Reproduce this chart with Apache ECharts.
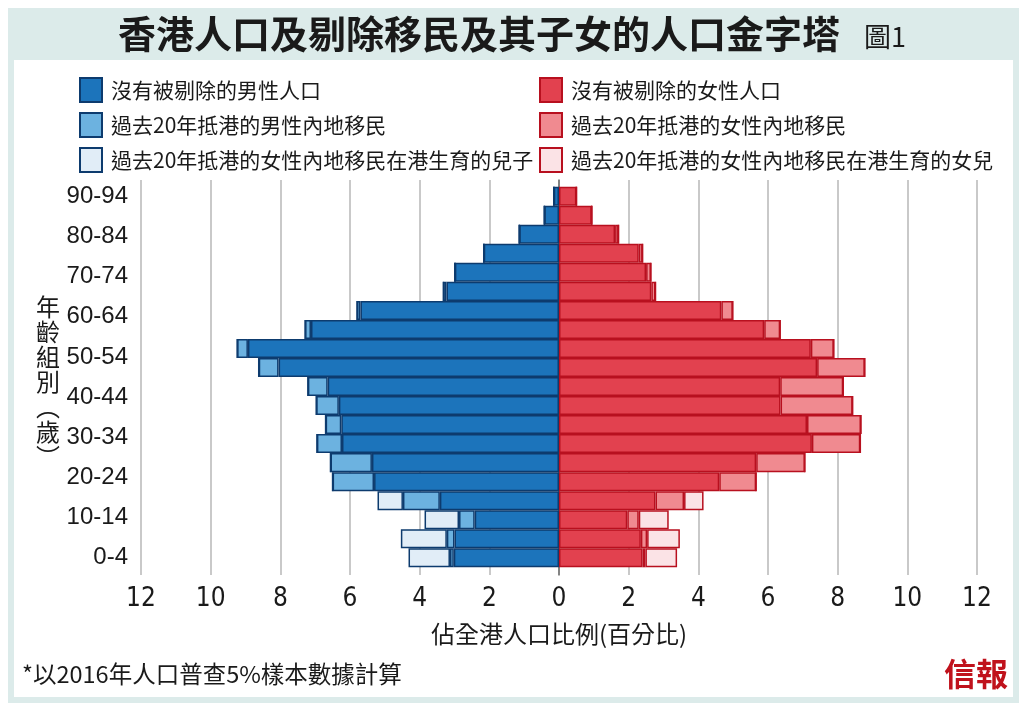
<!DOCTYPE html>
<html>
<head>
<meta charset="utf-8">
<script src="https://cdn.jsdelivr.net/npm/echarts@6/dist/echarts.min.js"></script>
<style>
html,body{margin:0;padding:0;background:#fff;}
#chart{width:1024px;height:713px;}
</style>
</head>
<body>
<div id="chart"></div>
<script>
// Age groups (bottom to top) - 20 bars in the picture
const ageGroups = ["0-4","5-9","10-14","15-19","20-24","25-29","30-34","35-39","40-44","45-49",
  "50-54","55-59","60-64","65-69","70-74","75-79","80-84","85-89","90-94","95+"];
// Axis tick labels shown on the left (bottom to top)
const ageTickLabels = ["0-4","10-14","20-24","30-34","40-44","50-54","60-64","70-74","80-84","90-94"];

// Male, % of HK population (bottom to top)
const maleLocal = [3.02,3.00,2.42,3.42,5.31,5.37,6.23,6.25,6.32,6.64,8.05,8.93,7.12,5.70,3.23,2.99,2.16,1.14,0.42,0.15];
const maleMigrant = [0.11,0.22,0.45,1.06,1.19,1.19,0.72,0.45,0.65,0.57,0.57,0.31,0.17,0.10,0.09,0,0,0,0,0];
const sonsOfMigrants = [1.19,1.32,0.99,0.73,0,0,0,0,0,0,0,0,0,0,0,0,0,0,0,0];

// Female, % of HK population (bottom to top)
const femaleLocal = [2.40,2.35,1.96,2.77,4.60,5.66,7.26,7.12,6.36,6.35,7.41,7.23,5.89,4.66,2.65,2.50,2.29,1.61,0.94,0.50];
const femaleMigrant = [0.08,0.18,0.33,0.82,1.06,1.40,1.39,1.55,2.07,1.81,1.37,0.66,0.46,0.33,0.12,0.14,0.11,0.10,0,0];
const daughtersOfMigrants = [0.91,0.94,0.86,0.56,0,0,0,0,0,0,0,0,0,0,0,0,0,0,0,0];

const names = {
  mLocal: "沒有被剔除的男性人口",
  mMig: "過去20年抵港的男性內地移民",
  sons: "過去20年抵港的女性內地移民在港生育的兒子",
  fLocal: "沒有被剔除的女性人口",
  fMig: "過去20年抵港的女性內地移民",
  daughters: "過去20年抵港的女性內地移民在港生育的女兒"
};

const CJK = '"Noto Sans CJK TC","Noto Sans CJK SC",sans-serif';
const maleBorder = "#0d3b6e";
const femaleBorder = "#b8101f";

function barSeries(name, data, negate, color, border) {
  return {
    name: name,
    type: "bar",
    stack: "pyramid",
    xAxisIndex: 0,
    yAxisIndex: 0,
    barCategoryGap: "0%",
    data: data.map(v => negate ? -v : v),
    itemStyle: { color: color, borderColor: border, borderWidth: 1.5 },
    emphasis: { disabled: true }
  };
}

const chart = echarts.init(document.getElementById("chart"), null, { renderer: "canvas" });

const option = {
  animation: false,
  backgroundColor: "#ffffff",
  graphic: [
    { type: "rect", z: -10, shape: { x: 8, y: 8, width: 1011, height: 695 }, style: { fill: "#dcebea" } },
    { type: "rect", z: -9, shape: { x: 14, y: 60, width: 999, height: 637 }, style: { fill: "#ffffff" } },
    { type: "text", z: 10, left: 118, top: 15,
      style: { text: "香港人口及剔除移民及其子女的人口金字塔", font: "bold 38px " + CJK, fill: "#1a1a1a" } },
    { type: "text", z: 10, left: 864, top: 23,
      style: { text: "圖1", font: "27px " + CJK, fill: "#1a1a1a" } },
    { type: "text", z: 10, left: 36, top: 294,
      style: { text: "年\n齡\n組\n別\n︵\n歲\n︶", font: "24px " + CJK, lineHeight: 25, fill: "#1a1a1a", align: "left" } },
    { type: "text", z: 10, left: 22, top: 662,
      style: { text: "*以2016年人口普查5%樣本數據計算", font: "23.5px " + CJK, fill: "#1a1a1a" } },
    { type: "text", z: 10, left: 944, top: 658,
      style: { text: "信報", font: "bold 32px " + CJK, fill: "#c0121c" } }
  ],
  legend: [
    {
      orient: "vertical", left: 74, top: 72, itemWidth: 22, itemHeight: 24, itemGap: 9,
      icon: "rect", selectedMode: false,
      data: [names.mLocal, names.mMig, names.sons],
      textStyle: { fontFamily: CJK, fontSize: 21, color: "#1a1a1a", padding: [0, 0, 0, 4] }
    },
    {
      orient: "vertical", left: 534, top: 72, itemWidth: 22, itemHeight: 24, itemGap: 9,
      icon: "rect", selectedMode: false,
      data: [names.fLocal, names.fMig, names.daughters],
      textStyle: { fontFamily: CJK, fontSize: 21, color: "#1a1a1a", padding: [0, 0, 0, 4] }
    }
  ],
  grid: [
    // bars
    { left: 141, right: 47, top: 186.7, bottom: 145.7, containLabel: false },
    // gridlines, x labels, center line
    { left: 141, right: 47, top: 180, bottom: 138, containLabel: false },
    // age tick labels
    { left: 141, right: 47, top: 196.2, bottom: 155.2, containLabel: false }
  ],
  xAxis: [
    { gridIndex: 0, type: "value", min: -12, max: 12, interval: 2, show: false },
    {
      gridIndex: 1, type: "value", min: -12, max: 12, interval: 2,
      axisLine: { show: false }, axisTick: { show: false },
      splitLine: { show: true, lineStyle: { color: "#c9c9c9", width: 2 } },
      axisLabel: {
        margin: 11, fontSize: 26, color: "#1a1a1a",
        fontFamily: '"Liberation Sans Narrow","DejaVu Sans Condensed","Liberation Sans",sans-serif',
        formatter: v => String(Math.abs(v))
      },
      name: "佔全港人口比例(百分比)", nameLocation: "middle", nameGap: 47,
      nameTextStyle: { fontFamily: CJK, fontSize: 24, color: "#1a1a1a" }
    },
    { gridIndex: 2, type: "value", min: -12, max: 12, show: false }
  ],
  yAxis: [
    { gridIndex: 0, type: "category", data: ageGroups, show: false },
    {
      gridIndex: 1, type: "value", min: 0, max: 1, axisLabel: { show: false }, axisTick: { show: false },
      splitLine: { show: false },
      axisLine: { show: true, onZero: true, lineStyle: { color: "#6b6b6b", width: 1.5 } }
    },
    {
      gridIndex: 2, type: "category", data: ageTickLabels, boundaryGap: false,
      axisLine: { show: false }, axisTick: { show: false }, splitLine: { show: false },
      axisLabel: {
        margin: 13, fontSize: 24, color: "#1a1a1a",
        fontFamily: '"Liberation Sans",Arial,sans-serif', interval: 0
      }
    }
  ],
  series: [
    barSeries(names.mLocal, maleLocal, true, "#1c74bb", maleBorder),
    barSeries(names.mMig, maleMigrant, true, "#6cb2e0", maleBorder),
    barSeries(names.sons, sonsOfMigrants, true, "#e1edf7", maleBorder),
    barSeries(names.fLocal, femaleLocal, false, "#e2414f", femaleBorder),
    barSeries(names.fMig, femaleMigrant, false, "#f08a90", femaleBorder),
    barSeries(names.daughters, daughtersOfMigrants, false, "#fbe3e6", femaleBorder)
  ]
};

chart.setOption(option);
</script>
</body>
</html>
